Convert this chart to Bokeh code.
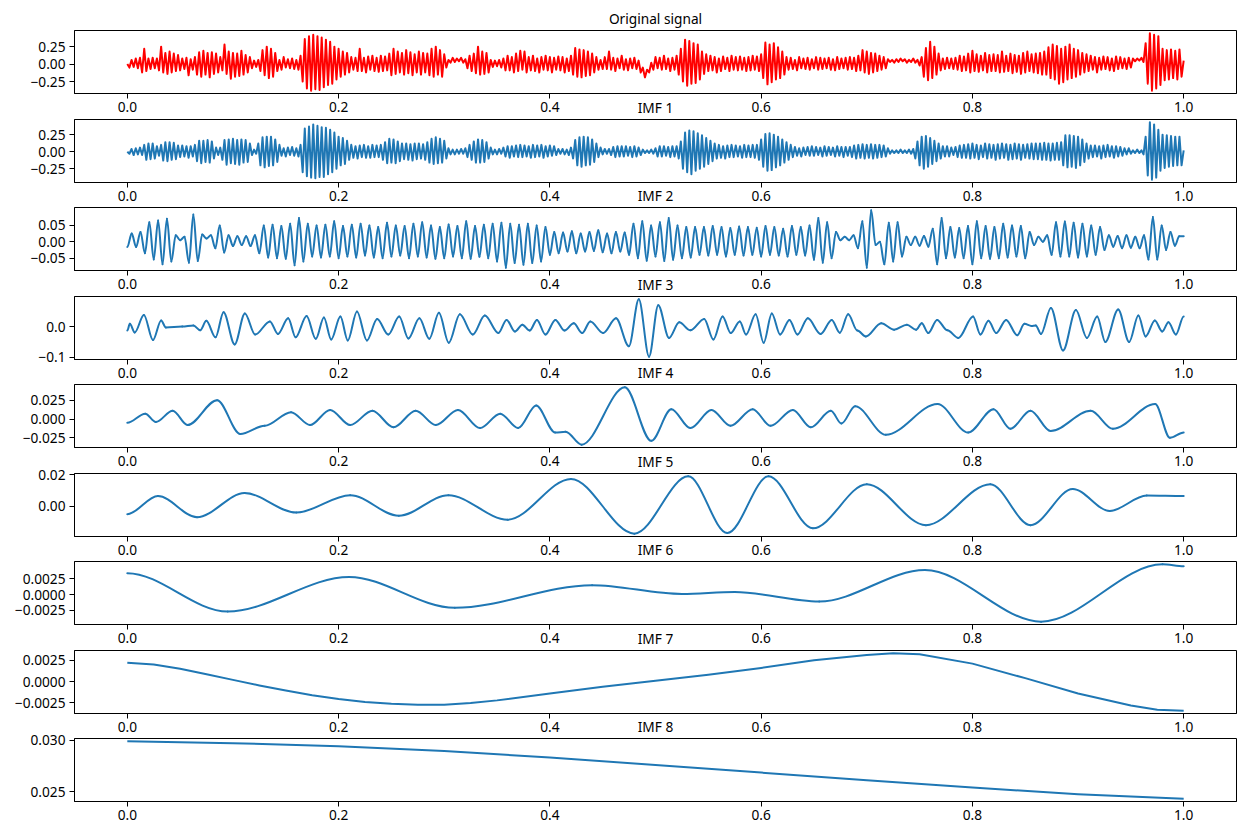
import numpy as np
from bokeh.plotting import figure
from bokeh.layouts import column
from bokeh.models import FixedTicker, DataRange1d, CustomJSTickFormatter
from bokeh.embed import file_html
from bokeh.resources import INLINE

FONT = "Noto Sans"
FS = "13.7px"
RED = "#ff0000"
BLUE = "#1f77b4"

titles = ["Original signal", "IMF 1", "IMF 2", "IMF 3", "IMF 4",
          "IMF 5", "IMF 6", "IMF 7", "IMF 8"]

x_ticks = [0.0, 0.2, 0.4, 0.6, 0.8, 1.0]
x_tick_labels = ["0.0", "0.2", "0.4", "0.6", "0.8", "1.0"]

y_ticks = [
    [-0.25, 0.0, 0.25],
    [-0.25, 0.0, 0.25],
    [-0.05, 0.0, 0.05],
    [-0.1, 0.0],
    [-0.025, 0.0, 0.025],
    [-0.02, 0.0, 0.02],
    [-0.0025, 0.0, 0.0025],
    [-0.0025, 0.0, 0.0025],
    [0.025, 0.030],
]
y_tick_labels = [
    ["\u22120.25", "0.00", "0.25"],
    ["\u22120.25", "0.00", "0.25"],
    ["\u22120.05", "0.00", "0.05"],
    ["\u22120.1", "0.0"],
    ["\u22120.025", "0.000", "0.025"],
    ["\u22120.02", "0.00", "0.02"],
    ["\u22120.0025", "0.0000", "0.0025"],
    ["\u22120.0025", "0.0000", "0.0025"],
    ["0.025", "0.030"],
]

# ---- Original signal: successive extrema, evenly spaced in time ----
orig_vals = [
    0.00, -0.05, 0.06, -0.04, 0.08, -0.06, 0.09, -0.12, 0.22, -0.10,
    0.08, -0.07, 0.09, -0.06, 0.08, -0.09, 0.25, -0.12, 0.16, -0.14,
    0.18, -0.12, 0.15, -0.10, 0.13, -0.09, 0.08, -0.07, 0.09, -0.16,
    0.07, -0.08, 0.10, -0.15, 0.17, -0.18, 0.19, -0.15, 0.16, -0.19,
    0.17, -0.14, 0.15, -0.12, 0.10, -0.09, 0.28, -0.14, 0.18, -0.21,
    0.16, -0.18, 0.15, -0.17, 0.19, -0.15, 0.13, -0.12, 0.10, -0.06,
    0.05, -0.04, 0.06, -0.10, 0.20, -0.16, 0.25, -0.20, 0.22, -0.18,
    0.16, -0.10, 0.06, -0.08, 0.10, -0.05, 0.07, -0.06, 0.08, -0.07,
    0.06, -0.08, 0.12, -0.25, 0.36, -0.35, 0.40, -0.38, 0.42, -0.36,
    0.40, -0.37, 0.38, -0.33, 0.35, -0.30, 0.32, -0.28, 0.25, -0.22,
    0.22, -0.18, 0.18, -0.15, 0.16, -0.12, 0.10, -0.08, 0.09, -0.10,
    0.22, -0.10, 0.09, -0.12, 0.11, -0.08, 0.12, -0.10, 0.09, -0.11,
    0.12, -0.10, 0.11, -0.09, 0.15, -0.16, 0.22, -0.14, 0.18, -0.12,
    0.16, -0.15, 0.20, -0.13, 0.17, -0.16, 0.14, -0.12, 0.18, -0.15,
    0.16, -0.12, 0.15, -0.16, 0.22, -0.18, 0.25, -0.15, 0.20, -0.18,
    0.14, -0.05, 0.06, 0.02, 0.09, 0.03, 0.08, 0.04, 0.09, 0.02,
    0.07, -0.06, 0.12, -0.10, 0.15, -0.13, 0.25, -0.15, 0.18, -0.14,
    0.16, -0.12, 0.06, -0.04, 0.05, -0.03, 0.06, -0.05, 0.08, -0.09,
    0.12, -0.09, 0.10, -0.12, 0.15, -0.10, 0.19, -0.08, 0.18, -0.12,
    0.10, -0.09, 0.12, -0.10, 0.08, -0.12, 0.10, -0.08, 0.12, -0.09,
    0.10, -0.12, 0.09, -0.08, 0.11, -0.09, 0.10, -0.12, 0.08, -0.10,
    0.12, -0.15, 0.23, -0.18, 0.21, -0.19, 0.20, -0.17, 0.18, -0.16,
    0.15, -0.12, 0.10, -0.08, 0.06, -0.07, 0.10, -0.07, 0.18, -0.08,
    0.09, -0.10, 0.08, -0.06, 0.12, -0.08, 0.07, -0.09, 0.08, -0.06,
    0.09, -0.07, 0.05, -0.12, -0.05, -0.19, -0.08, -0.12, 0.02, -0.08,
    0.10, -0.06, 0.09, -0.08, 0.12, -0.07, 0.08, -0.10, 0.09, -0.08,
    0.12, -0.15, 0.22, -0.25, 0.35, -0.31, 0.33, -0.28, 0.30, -0.27,
    0.28, -0.22, 0.18, -0.14, 0.14, -0.10, 0.12, -0.09, 0.10, -0.12,
    0.08, -0.10, 0.11, -0.07, 0.09, -0.10, 0.12, -0.08, 0.10, -0.09,
    0.11, -0.08, 0.09, -0.10, 0.10, -0.09, 0.12, -0.08, 0.11, -0.10,
    0.14, -0.20, 0.31, -0.29, 0.28, -0.26, 0.30, -0.22, 0.24, -0.20,
    0.18, -0.15, 0.10, -0.08, 0.09, -0.07, 0.06, -0.09, 0.10, -0.06,
    0.08, -0.07, 0.09, -0.08, 0.07, -0.06, 0.10, -0.08, 0.09, -0.07,
    0.08, -0.06, 0.09, -0.08, 0.07, -0.09, 0.10, -0.07, 0.08, -0.06,
    0.09, -0.08, 0.10, -0.07, 0.09, -0.10, 0.12, -0.09, 0.20, -0.12,
    0.18, -0.14, 0.16, -0.12, 0.15, -0.10, 0.12, -0.08, 0.10, -0.06,
    0.07, 0.03, 0.06, 0.02, 0.07, 0.03, 0.08, 0.04, 0.07, 0.02,
    0.06, 0.03, 0.08, 0.02, 0.06, -0.02, 0.10, -0.18, 0.23, -0.23,
    0.32, -0.20, 0.25, -0.15, 0.15, -0.09, 0.08, -0.07, 0.09, -0.06,
    0.08, -0.07, 0.09, -0.08, 0.12, -0.10, 0.11, -0.09, 0.15, -0.12,
    0.19, -0.10, 0.14, -0.11, 0.12, -0.09, 0.16, -0.12, 0.13, -0.10,
    0.14, -0.10, 0.13, -0.12, 0.18, -0.11, 0.12, -0.10, 0.15, -0.13,
    0.13, -0.11, 0.12, -0.14, 0.16, -0.12, 0.18, -0.10, 0.14, -0.12,
    0.15, -0.13, 0.16, -0.15, 0.18, -0.15, 0.24, -0.20, 0.28, -0.22,
    0.26, -0.28, 0.22, -0.26, 0.25, -0.22, 0.28, -0.20, 0.22, -0.18,
    0.20, -0.15, 0.16, -0.12, 0.14, -0.10, 0.12, -0.08, 0.10, -0.12,
    0.09, -0.08, 0.11, -0.07, 0.10, -0.09, 0.08, -0.10, 0.11, -0.07,
    0.10, -0.06, 0.08, -0.07, 0.09, -0.05, 0.08, 0.04, 0.08, 0.05,
    0.09, 0.03, 0.30, -0.28, 0.44, -0.38, 0.42, -0.35, 0.40, -0.30,
    0.22, -0.23, 0.20, -0.22, 0.21, -0.20, 0.19, -0.22, 0.21, -0.18,
    0.05,
]

# ---- IMF 1: successive extrema, evenly spaced in time ----
imf1_vals = [
    0.00, -0.03, 0.04, -0.05, 0.05, -0.04, 0.06, -0.05, 0.10, -0.12,
    0.12, -0.11, 0.12, -0.10, 0.08, -0.06, 0.10, -0.13, 0.14, -0.14,
    0.14, -0.12, 0.13, -0.11, 0.09, -0.08, 0.09, -0.07, 0.08, -0.09,
    0.08, -0.07, 0.10, -0.14, 0.16, -0.17, 0.16, -0.15, 0.17, -0.16,
    0.15, -0.10, 0.06, -0.05, 0.06, -0.12, 0.17, -0.19, 0.18, -0.17,
    0.19, -0.18, 0.17, -0.19, 0.18, -0.16, 0.17, -0.15, 0.12, -0.05,
    0.03, -0.03, 0.12, -0.20, 0.21, -0.23, 0.22, -0.21, 0.22, -0.20,
    0.18, -0.15, 0.10, -0.06, 0.05, -0.07, 0.06, -0.05, 0.07, -0.06,
    0.05, -0.07, 0.10, -0.30, 0.34, -0.36, 0.37, -0.38, 0.40, -0.39,
    0.38, -0.37, 0.36, -0.37, 0.35, -0.33, 0.32, -0.30, 0.28, -0.25,
    0.22, -0.20, 0.20, -0.18, 0.16, -0.12, 0.10, -0.09, 0.08, -0.10,
    0.09, -0.08, 0.10, -0.09, 0.08, -0.09, 0.10, -0.08, 0.09, -0.08,
    0.10, -0.12, 0.14, -0.17, 0.19, -0.16, 0.18, -0.17, 0.15, -0.14,
    0.12, -0.11, 0.12, -0.12, 0.11, -0.13, 0.12, -0.11, 0.12, -0.10,
    0.11, -0.12, 0.14, -0.16, 0.19, -0.18, 0.21, -0.17, 0.19, -0.16,
    0.16, -0.10, 0.05, -0.04, 0.03, -0.04, 0.03, -0.03, 0.04, -0.03,
    0.05, -0.08, 0.10, -0.12, 0.15, -0.16, 0.18, -0.16, 0.17, -0.15,
    0.14, -0.10, 0.06, -0.04, 0.03, -0.04, 0.04, -0.03, 0.06, -0.07,
    0.08, -0.09, 0.08, -0.07, 0.09, -0.08, 0.10, -0.08, 0.09, -0.07,
    0.08, -0.09, 0.10, -0.08, 0.09, -0.07, 0.10, -0.09, 0.08, -0.07,
    0.09, -0.06, 0.08, -0.05, 0.04, -0.03, 0.04, -0.04, 0.03, -0.05,
    0.06, -0.10, 0.17, -0.20, 0.21, -0.22, 0.22, -0.20, 0.21, -0.19,
    0.18, -0.15, 0.12, -0.08, 0.06, -0.04, 0.04, -0.03, 0.04, -0.05,
    0.07, -0.08, 0.08, -0.07, 0.08, -0.07, 0.08, -0.06, 0.07, -0.08,
    0.08, -0.07, 0.06, -0.05, 0.03, -0.02, 0.02, -0.02, 0.03, -0.03,
    0.05, -0.07, 0.08, -0.07, 0.08, -0.06, 0.07, -0.08, 0.08, -0.07,
    0.08, -0.10, 0.15, -0.25, 0.28, -0.30, 0.31, -0.33, 0.30, -0.28,
    0.27, -0.25, 0.24, -0.22, 0.20, -0.18, 0.16, -0.14, 0.12, -0.10,
    0.10, -0.09, 0.08, -0.10, 0.09, -0.08, 0.10, -0.08, 0.09, -0.07,
    0.08, -0.09, 0.10, -0.08, 0.09, -0.08, 0.10, -0.09, 0.10, -0.12,
    0.18, -0.22, 0.26, -0.28, 0.27, -0.27, 0.25, -0.23, 0.22, -0.20,
    0.18, -0.16, 0.14, -0.12, 0.10, -0.08, 0.07, -0.06, 0.05, -0.07,
    0.06, -0.05, 0.07, -0.06, 0.08, -0.06, 0.07, -0.05, 0.06, -0.07,
    0.08, -0.06, 0.07, -0.05, 0.06, -0.07, 0.08, -0.06, 0.07, -0.08,
    0.07, -0.06, 0.07, -0.08, 0.09, -0.10, 0.10, -0.09, 0.11, -0.10,
    0.10, -0.09, 0.11, -0.10, 0.10, -0.09, 0.10, -0.08, 0.09, -0.07,
    0.05, -0.03, 0.02, -0.02, 0.02, -0.02, 0.03, -0.02, 0.02, -0.02,
    0.03, -0.03, 0.04, -0.10, 0.15, -0.20, 0.22, -0.25, 0.23, -0.22,
    0.20, -0.18, 0.16, -0.14, 0.12, -0.10, 0.08, -0.07, 0.08, -0.07,
    0.06, -0.05, 0.07, -0.08, 0.09, -0.09, 0.10, -0.09, 0.11, -0.10,
    0.12, -0.09, 0.10, -0.11, 0.09, -0.08, 0.12, -0.10, 0.11, -0.09,
    0.10, -0.12, 0.11, -0.10, 0.12, -0.09, 0.11, -0.12, 0.10, -0.11,
    0.12, -0.10, 0.11, -0.12, 0.10, -0.09, 0.11, -0.10, 0.12, -0.11,
    0.12, -0.11, 0.12, -0.12, 0.13, -0.12, 0.12, -0.13, 0.12, -0.12,
    0.13, -0.12, 0.14, -0.20, 0.24, -0.23, 0.24, -0.22, 0.23, -0.24,
    0.22, -0.20, 0.18, -0.15, 0.12, -0.10, 0.09, -0.08, 0.09, -0.07,
    0.08, -0.10, 0.09, -0.08, 0.10, -0.07, 0.08, -0.09, 0.08, -0.07,
    0.07, -0.06, 0.05, -0.04, 0.05, -0.03, 0.02, -0.02, 0.03, -0.02,
    0.02, -0.04, 0.22, -0.35, 0.43, -0.41, 0.40, -0.38, 0.32, -0.28,
    0.25, -0.24, 0.24, -0.22, 0.23, -0.21, 0.22, -0.20, 0.22, -0.20,
    0.02,
]

# ---- IMF 2: successive extrema, evenly spaced in time ----
imf2_vals = [
    -0.016, 0.025, -0.016, 0.030, -0.035, 0.060, -0.054, 0.065, -0.069, 0.070,
    -0.060, 0.020, 0.005, 0.015, -0.064, 0.083, -0.059, 0.022, 0.010, 0.020,
    -0.020, 0.050, -0.033, 0.020, -0.013, 0.017, -0.010, 0.017, -0.013, 0.020,
    -0.035, 0.050, -0.048, 0.052, -0.050, 0.048, -0.052, 0.055, -0.072, 0.073,
    -0.060, 0.055, -0.045, 0.050, -0.048, 0.052, -0.045, 0.063, -0.050, 0.048,
    -0.045, 0.052, -0.048, 0.055, -0.042, 0.050, -0.048, 0.045, -0.050, 0.058,
    -0.045, 0.050, -0.042, 0.048, -0.050, 0.055, -0.045, 0.060, -0.048, 0.050,
    -0.052, 0.045, -0.050, 0.053, -0.045, 0.048, -0.050, 0.063, -0.052, 0.048,
    -0.046, 0.052, -0.050, 0.055, -0.060, 0.058, -0.079, 0.055, -0.065, 0.052,
    -0.070, 0.055, -0.065, 0.050, -0.060, 0.045, -0.040, 0.030, -0.035, 0.028,
    -0.030, 0.032, -0.035, 0.025, -0.030, 0.030, -0.028, 0.035, -0.032, 0.025,
    -0.035, 0.030, -0.030, 0.028, -0.040, 0.055, -0.050, 0.063, -0.058, 0.050,
    -0.045, 0.060, -0.059, 0.073, -0.055, 0.050, -0.050, 0.045, -0.048, 0.045,
    -0.040, 0.045, -0.042, 0.048, -0.040, 0.045, -0.045, 0.042, -0.040, 0.047,
    -0.042, 0.045, -0.040, 0.043, -0.045, 0.048, -0.040, 0.045, -0.042, 0.040,
    -0.045, 0.048, -0.040, 0.045, -0.042, 0.050, -0.055, 0.073, -0.064, 0.060,
    -0.050, 0.030, 0.005, 0.015, 0.005, 0.020, -0.020, 0.063, -0.079, 0.096,
    -0.010, 0.000, -0.069, 0.058, -0.060, 0.060, -0.045, 0.015, -0.010, 0.015,
    -0.012, 0.018, -0.015, 0.040, -0.069, 0.073, -0.050, 0.045, -0.048, 0.042,
    -0.050, 0.048, -0.069, 0.063, -0.050, 0.048, -0.052, 0.045, -0.050, 0.055,
    -0.048, 0.050, -0.045, 0.048, -0.050, 0.030, -0.010, 0.015, 0.000, 0.020,
    -0.040, 0.060, -0.045, 0.062, -0.045, 0.058, -0.048, 0.055, -0.045, 0.050,
    -0.040, 0.045, -0.025, 0.020, -0.015, 0.018, -0.020, 0.020, -0.018, 0.015,
    -0.020, 0.020, -0.054, 0.076, -0.054, 0.050, -0.025, 0.030, -0.012, 0.017,
    0.017,
]

# ---- IMF 3: extrema (time, value) ----
imf3_t = [
    0.0, 0.0024, 0.007, 0.0157, 0.0243, 0.032, 0.0365, 0.052, 0.0626, 0.069,
    0.0748, 0.0835, 0.0911, 0.1016, 0.1113, 0.121, 0.135, 0.1426, 0.1523, 0.1593,
    0.1697, 0.1784, 0.1861, 0.1930, 0.2017, 0.2087, 0.2174, 0.2268, 0.2365, 0.2470,
    0.2574, 0.2661, 0.2765, 0.2859, 0.2950, 0.3043, 0.3148, 0.3270, 0.3384, 0.3513,
    0.3590, 0.3670, 0.3739, 0.3809, 0.3878, 0.3958, 0.4052, 0.4139, 0.4226, 0.4306,
    0.4383, 0.4504, 0.4626, 0.4748, 0.4842, 0.4939, 0.5026, 0.5128, 0.5225, 0.5330,
    0.5461, 0.5548, 0.5635, 0.5712, 0.5798, 0.5857, 0.5948, 0.6024, 0.6101, 0.6180,
    0.6268, 0.6344, 0.6442, 0.6563, 0.6668, 0.6745, 0.6824, 0.6911, 0.6991, 0.7137,
    0.7259, 0.7380, 0.7467, 0.7520, 0.7582, 0.7666, 0.7763, 0.7867, 0.8006, 0.8076,
    0.8152, 0.8225, 0.8319, 0.8424, 0.8493, 0.8560, 0.8600, 0.8649, 0.8743, 0.8858,
    0.8980, 0.9084, 0.9181, 0.9258, 0.9380, 0.9484, 0.9571, 0.9640, 0.9727, 0.9797,
    0.9856, 0.9926, 1.0,
]
imf3_v = [
    -0.013, 0.009, -0.019, 0.038, -0.044, 0.020, -0.003, 0.000, 0.004, -0.012,
    0.019, -0.035, 0.047, -0.058, 0.043, -0.026, 0.017, -0.024, 0.027, -0.035,
    0.035, -0.040, 0.030, -0.042, 0.033, -0.045, 0.049, -0.045, 0.025, -0.026,
    0.033, -0.039, 0.027, -0.040, 0.045, -0.053, 0.040, -0.026, 0.036, -0.021,
    0.022, -0.016, 0.006, -0.013, 0.022, -0.026, 0.022, -0.013, 0.011, -0.021,
    0.017, -0.021, 0.027, -0.064, 0.089, -0.098, 0.070, -0.037, 0.014, -0.012,
    0.025, -0.042, 0.033, -0.021, 0.017, -0.026, 0.040, -0.053, 0.043, -0.026,
    0.022, -0.026, 0.027, -0.024, 0.022, -0.020, 0.040, -0.013, -0.032, 0.011,
    -0.010, 0.006, -0.010, 0.011, -0.021, 0.022, -0.012, -0.037, 0.033, -0.026,
    0.019, -0.021, 0.022, -0.028, 0.009, 0.002, 0.004, -0.024, 0.061, -0.078,
    0.054, -0.037, 0.033, -0.050, 0.056, -0.050, 0.036, -0.032, 0.020, -0.016,
    0.014, -0.026, 0.033,
]

# ---- IMF 4: extrema (time, value) ----
imf4_t = [
    0.0, 0.017, 0.027, 0.043, 0.057, 0.085, 0.107, 0.13, 0.155, 0.173,
    0.192, 0.211, 0.232, 0.252, 0.273, 0.292, 0.313, 0.334, 0.353, 0.37,
    0.387, 0.405, 0.415, 0.43, 0.471, 0.496, 0.515, 0.533, 0.553, 0.571,
    0.592, 0.609, 0.63, 0.647, 0.666, 0.676, 0.689, 0.718, 0.767, 0.796,
    0.82, 0.836, 0.855, 0.874, 0.912, 0.933, 0.973, 0.987, 1.0,
]
imf4_v = [
    -0.005, 0.007, -0.004, 0.011, -0.008, 0.025, -0.020, -0.009, 0.009, -0.008,
    0.012, -0.008, 0.011, -0.011, 0.011, -0.008, 0.012, -0.012, 0.007, -0.012,
    0.018, -0.018, -0.017, -0.034, 0.042, -0.029, 0.013, -0.012, 0.012, -0.009,
    0.013, -0.009, 0.012, -0.011, 0.011, -0.006, 0.017, -0.021, 0.020, -0.018,
    0.013, -0.013, 0.011, -0.016, 0.011, -0.013, 0.020, -0.025, -0.018,
]

# ---- IMF 5: extrema (time, value) ----
imf5_t = [0.0, 0.029, 0.066, 0.111, 0.16, 0.211, 0.257, 0.304, 0.36, 0.42,
          0.48, 0.531, 0.568, 0.607, 0.649, 0.70, 0.756, 0.817, 0.855, 0.895,
          0.93, 0.965, 1.0]
imf5_v = [-0.005, 0.0065, -0.007, 0.0084, -0.004, 0.007, -0.006, 0.007, -0.0085, 0.0174,
          -0.0174, 0.019, -0.017, 0.019, -0.014, 0.014, -0.012, 0.014, -0.012, 0.011,
          -0.003, 0.0068, 0.0065]

# ---- IMF 6: extrema (time, value) ----
imf6_t = [0.0, 0.095, 0.21, 0.31, 0.44, 0.525, 0.575, 0.655, 0.755, 0.865, 0.98, 1.0]
imf6_v = [0.0034, -0.0027, 0.0028, -0.0021, 0.0015, 0.0001, 0.0004, -0.0011,
          0.0039, -0.0043, 0.0048, 0.0045]

# ---- IMF 7: samples ----
imf7_t = [
    0.0, 0.025, 0.05, 0.075, 0.1, 0.125, 0.15, 0.175, 0.2, 0.225,
    0.25, 0.275, 0.3, 0.325, 0.35, 0.4, 0.45, 0.5, 0.55, 0.6,
    0.65, 0.7, 0.725, 0.75, 0.8, 0.85, 0.9, 0.95, 0.975, 1.0,
]
imf7_v = [
    0.0022, 0.0020, 0.0015, 0.00085, 0.0002, -0.00045, -0.00105, -0.0016, -0.00205, -0.0024,
    -0.0026, -0.0027, -0.0027, -0.0025, -0.0022, -0.0014, -0.0006, 0.0001, 0.0008, 0.0016,
    0.0025, 0.0031, 0.0033, 0.0032, 0.0021, 0.0004, -0.0014, -0.0028, -0.0033, -0.0034,
]

# ---- IMF 8: samples ----
imf8_t = [0.0, 0.1, 0.2, 0.3, 0.4, 0.5, 0.6, 0.7, 0.8, 0.9, 1.0]
imf8_v = [0.02990, 0.02972, 0.02943, 0.02895, 0.02833, 0.02760,
          0.02686, 0.02610, 0.02540, 0.02475, 0.02432]

# (x, y, colour, drawn as smooth curve through extrema?)
series = [
    (np.linspace(0.0, 1.0, len(orig_vals)), orig_vals, RED, False),
    (np.linspace(0.0, 1.0, len(imf1_vals)), imf1_vals, BLUE, False),
    (np.linspace(0.0, 1.0, len(imf2_vals)), imf2_vals, BLUE, True),
    (imf3_t, imf3_v, BLUE, True),
    (imf4_t, imf4_v, BLUE, True),
    (imf5_t, imf5_v, BLUE, True),
    (imf6_t, imf6_v, BLUE, True),
    (imf7_t, imf7_v, BLUE, False),
    (imf8_t, imf8_v, BLUE, False),
]

FRAME_H = 63
FIRST_TOP = 30
TOP = 26
BOT = 26
LEFT = 74
RIGHT = 4
FRAME_W = 1162
overlaps = [0, 26, 27, 26, 27, 26, 27, 26, 27]


def tick_fmt(vals, labs):
    return CustomJSTickFormatter(args=dict(vals=list(vals), labs=list(labs)), code="""
for (let i = 0; i < vals.length; i++) {
  if (Math.abs(vals[i] - tick) < 1e-9) { return labs[i]; }
}
return "";
""")


figs = []
for k in range(len(series)):
    t, v, color, smooth = series[k]
    n = min(len(t), len(v))
    t = np.asarray(t[:n], dtype=float)
    v = np.asarray(v[:n], dtype=float)
    top = FIRST_TOP if k == 0 else TOP
    p = figure(width=LEFT + FRAME_W + RIGHT, height=top + FRAME_H + BOT,
               output_backend="svg", toolbar_location=None,
               title=titles[k],
               x_range=DataRange1d(range_padding=0.1),
               y_range=DataRange1d(range_padding=0.1),
               min_border_left=LEFT, min_border_right=RIGHT,
               min_border_top=top, min_border_bottom=BOT,
               margin=(-overlaps[k], 0, 0, 0))
    if smooth:
        # cubic segments between successive extrema, flat at each extremum
        x0, x1 = t[:-1], t[1:]
        y0, y1 = v[:-1], v[1:]
        d = (x1 - x0) / 3.0
        p.bezier(x0=x0, y0=y0, x1=x1, y1=y1,
                 cx0=x0 + d, cy0=y0, cx1=x1 - d, cy1=y1,
                 line_color=color, line_width=2, line_cap="round")
    else:
        p.line(t, v, line_color=color, line_width=2, line_join="round")

    p.title.align = "center"
    p.title.text_font = FONT
    p.title.text_font_size = FS
    p.title.text_font_style = "normal"
    p.title.text_color = "black"
    p.title.standoff = 5
    p.title.offset = 0

    p.xaxis.ticker = FixedTicker(ticks=x_ticks)
    p.xaxis.formatter = tick_fmt(x_ticks, x_tick_labels)
    p.yaxis.ticker = FixedTicker(ticks=y_ticks[k])
    p.yaxis.formatter = tick_fmt(y_ticks[k], y_tick_labels[k])
    for ax in (p.xaxis[0], p.yaxis[0]):
        ax.axis_line_color = "black"
        ax.major_tick_line_color = "black"
        ax.minor_tick_line_color = None
        ax.major_tick_out = 5
        ax.major_tick_in = 0
        ax.major_label_text_font = FONT
        ax.major_label_text_font_size = FS
        ax.major_label_text_color = "black"
    p.xaxis[0].major_label_standoff = 3
    p.yaxis[0].major_label_standoff = 4
    p.xgrid.visible = False
    p.ygrid.visible = False
    p.outline_line_color = "black"
    p.outline_line_alpha = 1.0
    p.outline_line_width = 1
    p.background_fill_color = "white"
    p.border_fill_color = None
    figs.append(p)

layout = column(*figs, spacing=0)
open("out.html", "w", encoding="utf-8").write(file_html(layout, INLINE, title="EMD"))
